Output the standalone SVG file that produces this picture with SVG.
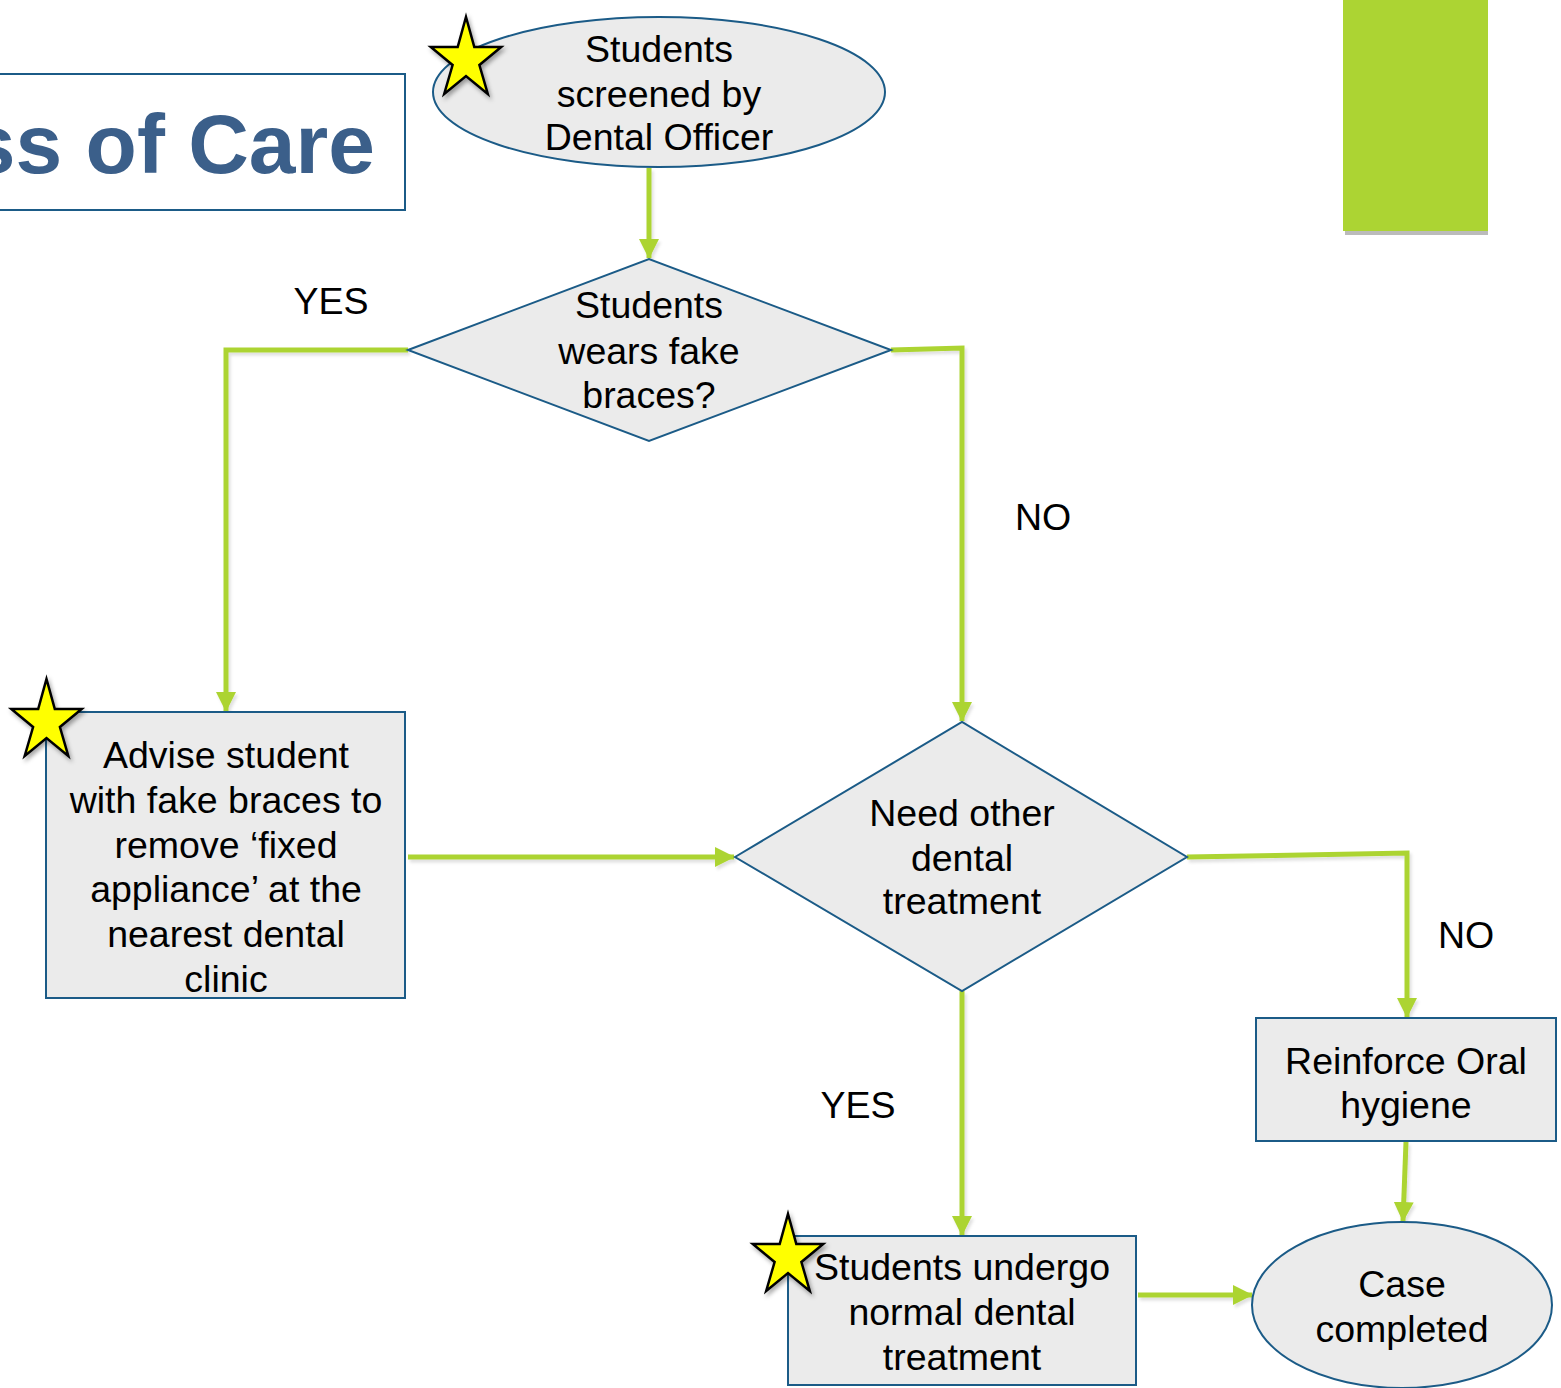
<svg xmlns="http://www.w3.org/2000/svg" width="1561" height="1388" viewBox="0 0 1561 1388">
<style>
.node{fill:#ebebeb;stroke:#1b5b87;stroke-width:2}
.t{font-family:"Liberation Sans",Arial,sans-serif;font-size:37.5px;fill:#000;text-anchor:middle}
.c{fill:none;stroke:#acd433;stroke-width:5}
.star{fill:#ffff00;stroke:#000;stroke-width:2.5;stroke-linejoin:miter;filter:url(#sh2)}
</style>
<defs>
<filter id="sh" filterUnits="userSpaceOnUse" x="0" y="0" width="1561" height="1388">
<feDropShadow dx="2" dy="3" stdDeviation="1.5" flood-color="#000" flood-opacity="0.12"/>
</filter>
<filter id="sh2" x="-30%" y="-30%" width="160%" height="160%">
<feDropShadow dx="2" dy="3" stdDeviation="2" flood-color="#000" flood-opacity="0.35"/>
</filter>
<marker id="ah" markerUnits="strokeWidth" markerWidth="4" markerHeight="4" viewBox="0 0 4 4" refX="3.8" refY="2" orient="auto">
<path d="M0,0 L4,2 L0,4 Z" fill="#acd433"/>
</marker>
</defs>
<rect width="1561" height="1388" fill="#fff"/>

<g id="title">
<rect x="-5" y="74" width="410" height="136" fill="#fff" stroke="#1b5b87" stroke-width="2"/>
<text x="375" y="173" font-family="Liberation Sans,Arial,sans-serif" font-size="84" font-weight="bold" fill="#3b5f8a" text-anchor="end">ss of Care</text>
</g>

<g id="greenbar">
<rect x="1345" y="3" width="143" height="232" fill="#aaaaaa" opacity="0.8"/>
<rect x="1343" y="0" width="145" height="231" fill="#acd433"/>
</g>

<g id="connectors" filter="url(#sh)">
<path class="c" d="M649,168 V258" stroke-width="4.5" marker-end="url(#ah)"/>
<path class="c" d="M408,350 H226 V711" stroke-width="4" marker-end="url(#ah)"/>
<path class="c" d="M891,350 L962,348 V721" stroke-width="6" marker-end="url(#ah)"/>
<path class="c" d="M408,857 H734" marker-end="url(#ah)"/>
<path class="c" d="M1187,857 L1407,853 V1017" marker-end="url(#ah)"/>
<path class="c" d="M962,991 V1235" stroke-width="4.5" marker-end="url(#ah)"/>
<path class="c" d="M1406,1142 L1403,1221" marker-end="url(#ah)"/>
<path class="c" d="M1138,1295 H1252" marker-end="url(#ah)"/>
</g>

<g id="n1">
<ellipse class="node" cx="659" cy="92" rx="226" ry="75"/>
<text class="t" x="659" y="62">Students</text>
<text class="t" x="659" y="107">screened by</text>
<text class="t" x="659" y="150">Dental Officer</text>
</g>

<g id="n2">
<polygon class="node" points="408,350 649,259 891,350 649,441"/>
<text class="t" x="649" y="318">Students</text>
<text class="t" x="649" y="364">wears fake</text>
<text class="t" x="649" y="408">braces?</text>
</g>

<g id="n3">
<rect class="node" x="46" y="712" width="359" height="286"/>
<text class="t" x="226" y="768">Advise student</text>
<text class="t" x="226" y="813">with fake braces to</text>
<text class="t" x="226" y="858">remove ‘fixed</text>
<text class="t" x="226" y="902">appliance’ at the</text>
<text class="t" x="226" y="947">nearest dental</text>
<text class="t" x="226" y="992">clinic</text>
</g>

<g id="n4">
<polygon class="node" points="735,857 962,722 1187,857 962,991"/>
<text class="t" x="962" y="826">Need other</text>
<text class="t" x="962" y="871">dental</text>
<text class="t" x="962" y="914">treatment</text>
</g>

<g id="n5">
<rect class="node" x="1256" y="1018" width="300" height="123"/>
<text class="t" x="1406" y="1074">Reinforce Oral</text>
<text class="t" x="1406" y="1118">hygiene</text>
</g>

<g id="n6">
<rect class="node" x="788" y="1236" width="348" height="149"/>
<text class="t" x="962" y="1280">Students undergo</text>
<text class="t" x="962" y="1325">normal dental</text>
<text class="t" x="962" y="1370">treatment</text>
</g>

<g id="n7">
<ellipse class="node" cx="1402" cy="1305" rx="150" ry="83"/>
<text class="t" x="1402" y="1297">Case</text>
<text class="t" x="1402" y="1342">completed</text>
</g>

<g id="labels">
<text class="t" x="331" y="314">YES</text>
<text class="t" x="1043" y="530">NO</text>
<text class="t" x="1466" y="948">NO</text>
<text class="t" x="858" y="1118">YES</text>
</g>

<g id="stars">
<polygon class="star" points="466,17 474.3,47 501.2,47 479.4,65 487.8,94 466,76 444.2,94 452.6,65 430.8,47 457.7,47"/>
<polygon class="star" points="46.5,679 54.8,709 81.7,709 59.9,727 68.3,756 46.5,738 24.7,756 33.1,727 11.3,709 38.2,709"/>
<polygon class="star" points="788,1214 796.3,1244 823.2,1244 801.4,1262 809.8,1291 788,1273 766.2,1291 774.6,1262 752.8,1244 779.7,1244"/>
</g>
</svg>
